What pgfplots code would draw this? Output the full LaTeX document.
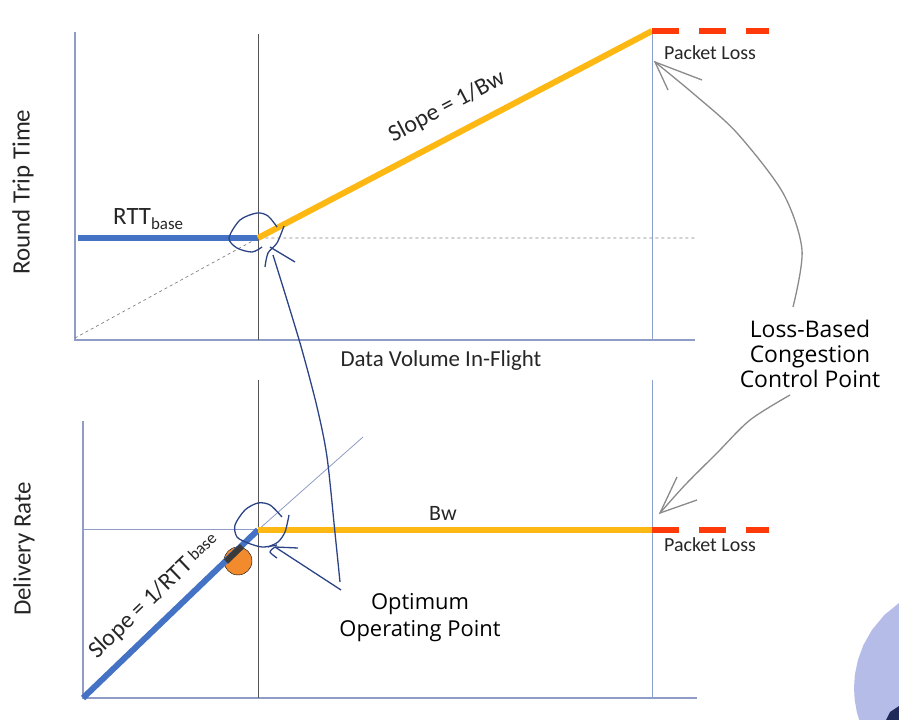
\documentclass[border=0pt]{standalone}
\usepackage{pgfplots}
\pgfplotsset{compat=1.18}
\usepackage{fontspec}
\setmainfont{Carlito}
\newfontfamily\hand{Open Sans}
\definecolor{axc}{HTML}{8E9CC6}
\definecolor{vdark}{HTML}{555555}
\definecolor{vblue}{HTML}{8AA0CE}
\definecolor{lblue}{HTML}{4472C4}
\definecolor{lgold}{HTML}{FDB813}
\definecolor{lred}{HTML}{FF3A0A}
\definecolor{hblue}{HTML}{2C4486}
\definecolor{hgray}{HTML}{8A8A8A}
\definecolor{dotc}{HTML}{F28A2E}
\definecolor{purp}{HTML}{B6BCE8}
\definecolor{navy}{HTML}{1F2A5A}
\definecolor{band}{HTML}{3A3A3A}
\begin{document}
\begin{tikzpicture}
\begin{axis}[
  scale only axis, width=899bp, height=720bp,
  xmin=0, xmax=899, ymin=0, ymax=720, y dir=reverse,
  hide axis, clip marker paths=true,
]
% frame for bounding box
\addplot[draw=none] coordinates {(0,0) (899,720)};
% purple circle (partly out of frame)
\addplot[fill=purp, draw=none] coordinates {(899,603) (884.3,615) (871.9,630) (863.4,645) (857.9,660) (854.8,675) (854,688) (854.7,700) (856.8,712) (859.8,722) (899,722)} -- cycle;
\addplot[fill=navy, draw=none] coordinates {(885,722) (890,712) (899,706) (899,722)} -- cycle;

% ---------- top panel ----------
\addplot[axc, line width=1.2bp] coordinates {(75,32) (75,340) (695,340)};
\addplot[vdark, line width=1bp] coordinates {(258,34) (258,340)};
\addplot[vblue, line width=1bp] coordinates {(652,31) (652,340)};
\addplot[gray, line width=0.7bp, dash pattern=on 3bp off 3bp] coordinates {(75,338) (258,238) (695,238)};
\addplot[lblue, line width=6bp] coordinates {(78,238) (258,238)};
\addplot[lgold, line width=6bp] coordinates {(258,238) (652,31)};
\addplot[lred, line width=6bp, dash pattern=on 27bp off 20bp] coordinates {(652,31) (769,31)};

% ---------- bottom panel ----------
\addplot[axc, line width=1.2bp] coordinates {(83,421) (83,698) (697,698)};
\addplot[vdark, line width=1bp] coordinates {(258,380) (258,698)};
\addplot[vblue, line width=1bp] coordinates {(652,380) (652,698)};
\addplot[axc, line width=1bp] coordinates {(83,530) (258,530)};
\addplot[axc, line width=0.8bp] coordinates {(258,530) (363,437)};
\addplot[only marks, mark=*, mark size=14bp, mark options={fill=dotc, draw=none}] coordinates {(238,561)};
\addplot[lblue, line width=6bp] coordinates {(83,698) (258,530)};
\addplot[draw=band, line width=6bp] coordinates {(226,561.5) (242,546.1)};
\addplot[lgold, line width=6bp] coordinates {(258,530) (652,530)};
\addplot[lred, line width=6bp, dash pattern=on 27bp off 20bp] coordinates {(652,530) (769,530)};

% ---------- hand-drawn blue annotation ----------
\addplot[hblue, line width=1.3bp, smooth] coordinates {(277,227) (268,216) (257,213) (240,220) (229,238) (237,248) (252,252) (262,247)};
\addplot[hblue, line width=1.3bp, smooth] coordinates {(284,226) (277,243) (268,253) (265,267)};
\addplot[hblue, line width=1.3bp] coordinates {(270,247) (295,262)};
\addplot[hblue, line width=1.3bp, smooth] coordinates {(273,255) (287,300) (302,350) (317,407) (327,457) (335,533) (340,582)};
\addplot[hblue, line width=1.3bp] coordinates {(341,590) (275,547)};
\addplot[hblue, line width=1.3bp] coordinates {(275,547) (298,548)};
\addplot[hblue, line width=1.3bp, smooth] coordinates {(275,547) (270,552) (277,558)};
\addplot[hblue, line width=1.3bp, smooth] coordinates {(282,517) (270,505) (258,503) (245,510) (235,525) (237,537) (248,543) (262,547) (277,545)};
\addplot[hblue, line width=1.3bp, smooth] coordinates {(289,515) (285,532) (278,542) (268,547)};

% ---------- gray arrows ----------
\addplot[hgray, line width=1.3bp, smooth] coordinates {(793,307) (802,250) (783,193) (737,133) (695,95) (655,62)};
\addplot[hgray, line width=1.3bp] coordinates {(702,80) (655,62) (668,90)};
\addplot[hgray, line width=1.3bp, smooth] coordinates {(790,395) (750,420) (717,453) (685,485) (660,513)};
\addplot[hgray, line width=1.3bp] coordinates {(697,500) (660,513) (677,477)};

% ---------- text ----------
\node[rotate=90, font=\fontsize{25}{30}\selectfont, text=black!85] at (axis cs:23,192) {Round Trip Time};
\node[rotate=90, font=\fontsize{25}{30}\selectfont, text=black!85] at (axis cs:24,549) {Delivery Rate};
\node[font=\fontsize{23}{27}\selectfont, text=black!85] at (axis cs:441,361) {Data Volume In-Flight};
\node[anchor=base west, inner sep=0, font=\fontsize{25}{30}\selectfont, text=black!85] at (axis cs:113,225) {RTT\raisebox{-5bp}{\fontsize{17}{20}\selectfont base}};
\node[rotate=27.7, font=\fontsize{24}{28}\selectfont, text=black!85] at (axis cs:447,107) {Slope = 1/Bw};
\node[font=\fontsize{20}{24}\selectfont, text=black!85] at (axis cs:710,53) {Packet Loss};
\node[font=\fontsize{20}{24}\selectfont, text=black!85] at (axis cs:710,545) {Packet Loss};
\node[font=\fontsize{22}{26}\selectfont, text=black!85] at (axis cs:443,513) {Bw};
\node[rotate=43.8, font=\fontsize{24}{28}\selectfont, text=black!85] at (axis cs:154,596) {Slope = 1/RTT\,\raisebox{3bp}{\fontsize{17}{20}\selectfont base}};
\node[align=center, font=\hand\fontsize{23}{25}\selectfont] at (axis cs:810,354) {Loss-Based\\Congestion\\Control Point};
\node[align=center, font=\hand\fontsize{22}{27}\selectfont] at (axis cs:420,618) {Optimum\\Operating Point};
\end{axis}
\end{tikzpicture}
\end{document}
